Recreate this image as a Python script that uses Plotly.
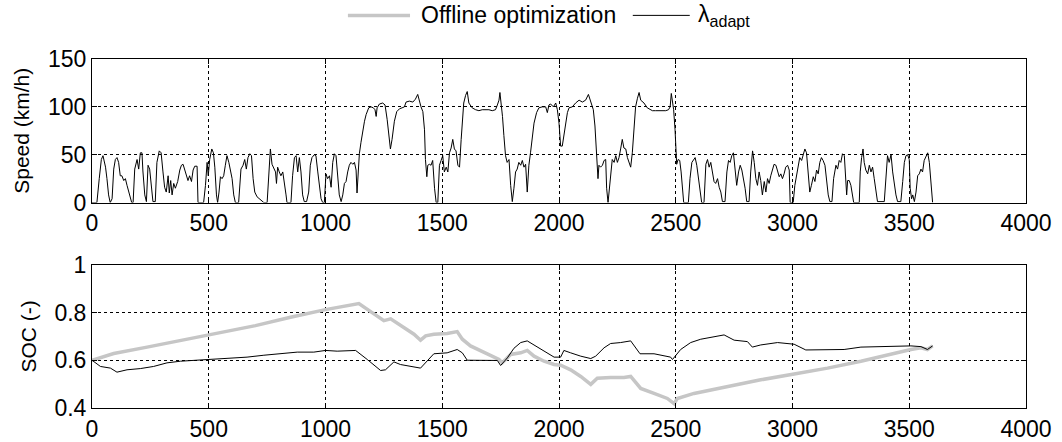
import plotly.graph_objects as go

# ---------------- data ----------------
t_speed = [
    0, 21, 31, 40, 47, 53, 58, 64, 71, 78,
    86, 93, 100, 107, 114, 121, 128, 136, 143, 150,
    161, 170, 176, 183, 193, 200, 207, 214, 218, 226,
    233, 240, 247, 254, 261, 271, 278, 288, 296, 304,
    311, 318, 326, 331, 337, 343, 350, 357, 367, 376,
    383, 390, 397, 404, 411, 418, 426, 433, 440, 450,
    454, 478, 486, 493, 498, 504, 513, 520, 526, 533,
    538, 544, 550, 557, 564, 571, 578, 586, 593, 600,
    607, 614, 628, 638, 647, 654, 661, 668, 676, 683,
    690, 697, 707, 721, 736, 750, 757, 764, 771, 778,
    786, 790, 795, 802, 809, 817, 824, 831, 835, 852,
    859, 867, 874, 881, 888, 895, 902, 909, 919, 928,
    935, 942, 952, 959, 967, 974, 981, 988, 995, 1002,
    1009, 1017, 1024, 1031, 1038, 1045, 1052, 1059, 1067, 1074,
    1081, 1088, 1095, 1102, 1109, 1117, 1124, 1131, 1135, 1139,
    1145, 1152, 1159, 1167, 1174, 1185, 1195, 1205, 1212, 1217,
    1221, 1231, 1245, 1255, 1264, 1271, 1278, 1285, 1295, 1305,
    1317, 1328, 1338, 1345, 1359, 1374, 1385, 1395, 1402, 1409,
    1417, 1424, 1428, 1434, 1438, 1445, 1452, 1459, 1467, 1474,
    1481, 1488, 1495, 1502, 1509, 1517, 1524, 1531, 1538, 1545,
    1552, 1559, 1567, 1574, 1581, 1586, 1592, 1600, 1607, 1614,
    1628, 1643, 1657, 1671, 1686, 1700, 1714, 1728, 1736, 1743,
    1747, 1753, 1758, 1764, 1771, 1778, 1786, 1793, 1800, 1807,
    1814, 1821, 1828, 1836, 1843, 1850, 1857, 1864, 1871, 1878,
    1886, 1893, 1904, 1914, 1928, 1943, 1950, 1957, 1964, 1976,
    1986, 1993, 2000, 2007, 2014, 2021, 2028, 2036, 2043, 2057,
    2071, 2086, 2100, 2114, 2126, 2136, 2147, 2154, 2161, 2167,
    2171, 2178, 2186, 2193, 2200, 2204, 2210, 2216, 2221, 2228,
    2236, 2243, 2250, 2257, 2264, 2271, 2278, 2286, 2293, 2300,
    2307, 2314, 2321, 2328, 2336, 2343, 2350, 2364, 2378, 2393,
    2400, 2414, 2428, 2443, 2457, 2469, 2476, 2481, 2486, 2491,
    2497, 2501, 2504, 2510, 2517, 2523, 2529, 2534, 2554, 2561,
    2569, 2576, 2583, 2590, 2597, 2604, 2611, 2621, 2629, 2636,
    2643, 2650, 2657, 2664, 2671, 2679, 2686, 2693, 2700, 2711,
    2719, 2726, 2733, 2740, 2747, 2754, 2761, 2769, 2776, 2783,
    2790, 2797, 2804, 2814, 2821, 2829, 2836, 2843, 2850, 2857,
    2864, 2871, 2879, 2886, 2893, 2900, 2907, 2914, 2921, 2929,
    2936, 2943, 2950, 2957, 2964, 2971, 2979, 2986, 2990, 3003,
    3010, 3017, 3024, 3031, 3039, 3046, 3053, 3060, 3067, 3074,
    3081, 3089, 3096, 3103, 3110, 3117, 3124, 3131, 3139, 3146,
    3153, 3160, 3169, 3176, 3183, 3186, 3193, 3200, 3207, 3214,
    3222, 3226, 3232, 3236, 3243, 3250, 3257, 3262, 3286, 3290,
    3296, 3302, 3307, 3314, 3322, 3329, 3336, 3343, 3350, 3357,
    3364, 3393, 3400, 3407, 3414, 3422, 3429, 3436, 3443, 3450,
    3464, 3472, 3479, 3486, 3493, 3500, 3504, 3510, 3515, 3522,
    3529, 3536, 3543, 3550, 3557, 3564, 3572, 3579, 3586, 3593,
    3597, 3600,
]
v_speed = [
    0, 0, 25, 45, 49, 42, 37, 25, 8, 0,
    4, 35, 45, 47, 42, 28, 28, 23, 25, 18,
    8, 0, 0, 35, 45, 35, 52, 52, 33, 8,
    1, 39, 35, 18, 1, 1, 42, 54, 52, 32,
    16, 11, 28, 10, 23, 8, 20, 15, 22, 34,
    39, 40, 34, 27, 23, 28, 22, 34, 38, 38,
    0, 0, 18, 42, 28, 45, 56, 52, 37, 8,
    0, 11, 27, 25, 28, 39, 49, 42, 34, 25,
    8, 0, 0, 35, 39, 45, 35, 47, 51, 49,
    25, 11, 6, 3, 0, 0, 32, 56, 40, 37,
    32, 20, 37, 32, 28, 32, 22, 8, 0, 0,
    28, 47, 49, 32, 47, 32, 8, 1, 1, 11,
    39, 47, 50, 49, 32, 15, 4, 0, 0, 30,
    25, 28, 16, 42, 51, 49, 28, 8, 1, 8,
    20, 22, 32, 39, 42, 40, 42, 34, 10, 28,
    51, 63, 76, 85, 92, 99, 100, 99, 97, 90,
    99, 103, 104, 102, 87, 70, 56, 66, 85, 95,
    98, 99, 100, 105, 106, 105, 108, 113, 105, 100,
    95, 76, 45, 27, 39, 40, 39, 44, 15, 0,
    0, 39, 44, 49, 32, 37, 32, 52, 57, 66,
    56, 54, 39, 37, 66, 83, 104, 112, 116, 104,
    99, 97, 96, 97, 97, 97, 96, 97, 102, 107,
    115, 102, 90, 70, 49, 42, 45, 18, 1, 15,
    32, 35, 42, 39, 44, 37, 40, 11, 39, 52,
    70, 83, 94, 99, 100, 100, 94, 102, 103, 100,
    104, 97, 83, 59, 59, 70, 83, 94, 99, 100,
    104, 107, 105, 107, 113, 104, 97, 80, 52, 25,
    39, 37, 39, 44, 45, 15, 0, 15, 32, 45,
    42, 49, 42, 47, 56, 66, 57, 56, 47, 42,
    37, 52, 83, 100, 109, 115, 107, 104, 99, 97,
    96, 96, 96, 96, 96, 97, 100, 114, 107, 97,
    76, 56, 40, 45, 44, 32, 11, 0, 0, 25,
    42, 45, 47, 39, 25, 8, 0, 0, 40, 45,
    37, 42, 30, 22, 20, 25, 16, 11, 1, 1,
    32, 44, 42, 49, 52, 37, 18, 32, 39, 34,
    25, 15, 1, 1, 32, 54, 42, 25, 18, 32,
    23, 8, 22, 11, 25, 20, 28, 34, 40, 39,
    32, 27, 30, 25, 30, 37, 39, 34, 0, 0,
    18, 28, 39, 47, 44, 49, 56, 52, 32, 11,
    18, 27, 22, 34, 30, 42, 47, 44, 39, 25,
    8, 1, 1, 25, 37, 39, 35, 44, 42, 51,
    49, 28, 8, 23, 23, 18, 8, 0, 0, 32,
    47, 56, 42, 34, 30, 39, 32, 37, 25, 15,
    1, 1, 32, 49, 42, 50, 32, 18, 8, 1,
    1, 22, 42, 49, 50, 45, 15, 4, 8, 1,
    11, 28, 30, 35, 32, 44, 49, 52, 42, 15,
    0, 0,
]

t_offline = [0, 93, 236, 379, 521, 700, 850, 1000, 1143, 1164,
             1207, 1250, 1279, 1321, 1379, 1407, 1429, 1464, 1521, 1564,
             1586, 1621, 1664, 1707, 1743, 1757, 1793, 1836, 1864, 1893,
             1936, 1979, 2007, 2050, 2093, 2136, 2164, 2221, 2278, 2307,
             2350, 2407, 2464, 2493, 2507, 2578, 2721, 2864, 3007, 3150,
             3293, 3436, 3507, 3550, 3578, 3600]
soc_offline = [0.600, 0.628, 0.655, 0.682, 0.708, 0.745, 0.780, 0.812, 0.837, 0.823,
               0.794, 0.766, 0.773, 0.745, 0.709, 0.684, 0.702, 0.709, 0.712, 0.720,
               0.688, 0.660, 0.641, 0.621, 0.603, 0.589, 0.624, 0.631, 0.641, 0.617,
               0.596, 0.582, 0.579, 0.560, 0.532, 0.499, 0.525, 0.528, 0.528, 0.532,
               0.482, 0.461, 0.440, 0.418, 0.440, 0.461, 0.489, 0.518, 0.542, 0.567,
               0.596, 0.631, 0.645, 0.652, 0.645, 0.660]

t_adapt = [0, 36, 79, 107, 150, 207, 264, 321, 379, 450,
           521, 593, 664, 736, 807, 879, 950, 1000, 1050, 1093,
           1129, 1179, 1207, 1236, 1257, 1293, 1321, 1379, 1407, 1464,
           1521, 1564, 1586, 1607, 1664, 1736, 1750, 1779, 1807, 1836,
           1864, 1893, 1936, 1979, 2007, 2021, 2050, 2093, 2136, 2157,
           2193, 2221, 2264, 2307, 2347, 2407, 2478, 2486, 2521, 2564,
           2607, 2650, 2707, 2750, 2807, 2828, 2864, 2936, 3007, 3057,
           3121, 3221, 3293, 3364, 3436, 3507, 3550, 3578, 3600]
soc_adapt = [0.600, 0.574, 0.567, 0.550, 0.560, 0.565, 0.574, 0.589, 0.596, 0.600,
             0.603, 0.607, 0.613, 0.621, 0.627, 0.634, 0.634, 0.641, 0.638, 0.641,
             0.641, 0.603, 0.582, 0.557, 0.560, 0.593, 0.582, 0.574, 0.567, 0.627,
             0.631, 0.645, 0.631, 0.600, 0.600, 0.599, 0.578, 0.610, 0.650, 0.674,
             0.681, 0.664, 0.638, 0.613, 0.613, 0.641, 0.631, 0.617, 0.607, 0.617,
             0.652, 0.670, 0.674, 0.681, 0.627, 0.627, 0.613, 0.603, 0.645, 0.674,
             0.688, 0.695, 0.706, 0.684, 0.678, 0.655, 0.664, 0.674, 0.667, 0.643,
             0.645, 0.645, 0.655, 0.657, 0.657, 0.660, 0.657, 0.645, 0.660]

x_ticks = [0, 500, 1000, 1500, 2000, 2500, 3000, 3500, 4000]
speed_ticks = [0, 50, 100, 150]
soc_ticks = [0.4, 0.6, 0.8, 1.0]
soc_tick_labels = ["0.4", "0.6", "0.8", "1"]

legend_names = ["Offline optimization", "λ<sub>adapt</sub>"]
GRAY = "#c6c6c6"
FONT = "Liberation Sans, Arial, sans-serif"

# ---------------- figure ----------------
fig = go.Figure()
fig.add_trace(go.Scatter(x=t_speed, y=v_speed, mode="lines",
                         line=dict(color="black", width=1),
                         xaxis="x", yaxis="y", showlegend=False))
fig.add_trace(go.Scatter(x=t_offline, y=soc_offline, mode="lines",
                         line=dict(color=GRAY, width=3.5),
                         xaxis="x2", yaxis="y2", showlegend=False,
                         name=legend_names[0]))
fig.add_trace(go.Scatter(x=t_adapt, y=soc_adapt, mode="lines",
                         line=dict(color="black", width=1),
                         xaxis="x2", yaxis="y2", showlegend=False,
                         name=legend_names[1]))

axis_common = dict(
    showline=True, linecolor="black", linewidth=1, mirror="ticks",
    ticks="inside", ticklen=5, tickcolor="black",
    showgrid=True, gridcolor="black", gridwidth=1, griddash="dot",
    zeroline=False, automargin=False,
    tickfont=dict(family=FONT, size=23, color="black"),
)

fig.update_layout(
    width=1062, height=442,
    margin=dict(l=92, r=36, t=59, b=34),
    paper_bgcolor="white", plot_bgcolor="white",
    font=dict(family=FONT, color="black"),
    xaxis=dict(domain=[0, 1], range=[0, 4000], tickvals=x_ticks,
               anchor="y", **axis_common),
    yaxis=dict(domain=[0.5886, 1], range=[0, 150], tickvals=speed_ticks,
               anchor="x",
               title=dict(text="Speed (km/h)", font=dict(family=FONT, size=21), standoff=12),
               **axis_common),
    xaxis2=dict(domain=[0, 1], range=[0, 4000], tickvals=x_ticks,
                anchor="y2", **axis_common),
    yaxis2=dict(domain=[0, 0.4106], range=[0.4, 1.0], tickvals=soc_ticks,
                ticktext=soc_tick_labels, anchor="x2",
                title=dict(text="SOC (-)", font=dict(family=FONT, size=21), standoff=12),
                **axis_common),
    showlegend=False,
)

# manual legend (line samples + labels) above the plots
leg_y = 1.125
fig.add_shape(type="line", xref="paper", yref="paper",
              x0=0.274, x1=0.3405, y0=leg_y, y1=leg_y,
              line=dict(color=GRAY, width=3.5))
fig.add_shape(type="line", xref="paper", yref="paper",
              x0=0.579, x1=0.640, y0=leg_y, y1=leg_y,
              line=dict(color="black", width=1))
fig.add_annotation(xref="paper", yref="paper", x=0.350, y=leg_y,
                   xanchor="left", yanchor="middle", showarrow=False,
                   text=legend_names[0], font=dict(family=FONT, size=23))
fig.add_annotation(xref="paper", yref="paper", x=0.647, y=leg_y,
                   xanchor="left", yanchor="middle", showarrow=False,
                   text=legend_names[1], font=dict(family=FONT, size=23))

fig.write_html("out.html")
